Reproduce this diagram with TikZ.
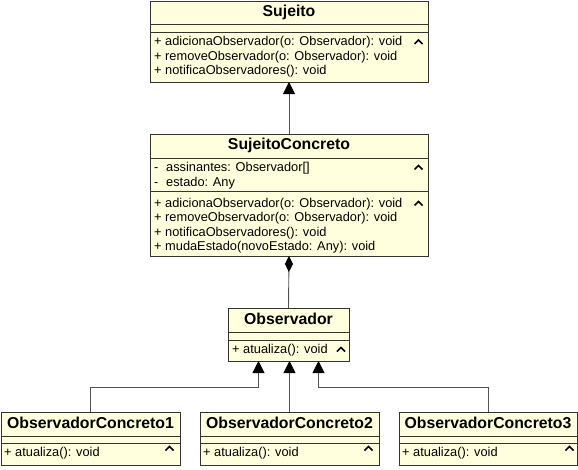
\documentclass[tikz,border=0pt]{standalone}
\usepackage{fontspec}
\setmainfont{Liberation Sans}
\usetikzlibrary{arrows.meta,calc}
\definecolor{cfill}{HTML}{FFFFDD}
\definecolor{cline}{HTML}{333333}
\begin{document}
\begin{tikzpicture}[x=1pt,y=-1pt,
  box/.style={draw=cline, fill=cfill, line width=0.8pt, anchor=north west, inner sep=0pt, outer sep=0pt},
  sep/.style={draw=cline, line width=0.8pt},
  ttl/.style={font=\bfseries\fontsize{15.8}{18}\selectfont, inner sep=0pt, text height=11.3pt, text depth=3.2pt},
  txt/.style={font=\fontsize{12.8}{15}\selectfont, anchor=west, inner sep=0pt, text height=9.3pt, text depth=2.9pt},
  caret/.style={draw=black, line width=1.6pt, line cap=butt, line join=miter},
  conn/.style={draw=cline!85!white, line width=0.9pt},
  inh/.style={conn, -{Triangle[width=12pt,length=12pt,fill=black,color=black]}},
  comp/.style={conn, -{Diamond[width=8pt,length=16pt,fill=black,color=black]}}
]
\fill[white] (0,0) rectangle (578,469);
\useasboundingbox (0,0) rectangle (578,469);

% Sujeito
\node[box, minimum width=278pt, minimum height=81pt] (suj) at (150,1) {};
\draw[sep] (150,24) -- (428,24);
\draw[sep] (150,32) -- (428,32);
\node[ttl] (sujT) at (289,12.5) {Sujeito};
\node[txt] (suj1) at (154,42.5) {+ adicionaObservador(o: Observador): void};
\node[txt] (suj2) at (154,57) {+ removeObservador(o: Observador): void};
\node[txt] (suj3) at (154,71.5) {+ notificaObservadores(): void};
\draw[caret] (414.5,44) -- (418.5,40) -- (422.5,44);

% SujeitoConcreto
\node[box, minimum width=278pt, minimum height=122pt] (sc) at (150,134) {};
\draw[sep] (150,158) -- (428,158);
\draw[sep] (150,191) -- (428,191);
\node[ttl] (scT) at (289,145.5) {SujeitoConcreto};
\node[txt] (sca1) at (154,168) {-};
\node[txt] (sca1b) at (166,168) {assinantes: Observador[]};
\node[txt] (sca2) at (154,183) {-};
\node[txt] (sca2b) at (166,183) {estado: Any};
\draw[caret] (414.5,169.5) -- (418.5,165.5) -- (422.5,169.5);
\node[txt] (scm1) at (154,204) {+ adicionaObservador(o: Observador): void};
\node[txt] (scm2) at (154,218.5) {+ removeObservador(o: Observador): void};
\node[txt] (scm3) at (154,233) {+ notificaObservadores(): void};
\node[txt] (scm4) at (154,247.5) {+ mudaEstado(novoEstado: Any): void};
\draw[caret] (414.5,205.5) -- (418.5,201.5) -- (422.5,205.5);

% Observador
\node[box, minimum width=121pt, minimum height=53pt] (obs) at (228,308) {};
\draw[sep] (228,332) -- (349,332);
\draw[sep] (228,340) -- (349,340);
\node[ttl] (obsT) at (288.5,320) {Observador};
\node[txt] (obs1) at (232,350.5) {+ atualiza(): void};
\draw[caret] (337,351.5) -- (341,347.5) -- (345,351.5);

% ObservadorConcreto 1..3
\node[box, minimum width=179pt, minimum height=53pt] (oc1) at (1,412) {};
\draw[sep] (1,436) -- (180,436);
\draw[sep] (1,443) -- (180,443);
\node[ttl] (oc1T) at (90.5,424) {ObservadorConcreto1};
\node[txt] (oc1m) at (4,453) {+ atualiza(): void};
\draw[caret] (165.5,450.5) -- (169.5,446.5) -- (173.5,450.5);

\node[box, minimum width=179pt, minimum height=53pt] (oc2) at (200,412) {};
\draw[sep] (200,436) -- (379,436);
\draw[sep] (200,443) -- (379,443);
\node[ttl] (oc2T) at (289.5,424) {ObservadorConcreto2};
\node[txt] (oc2m) at (203,453) {+ atualiza(): void};
\draw[caret] (364.5,450.5) -- (368.5,446.5) -- (372.5,450.5);

\node[box, minimum width=178pt, minimum height=53pt] (oc3) at (399,412) {};
\draw[sep] (399,436) -- (577,436);
\draw[sep] (399,443) -- (577,443);
\node[ttl] (oc3T) at (488,424) {ObservadorConcreto3};
\node[txt] (oc3m) at (402,453) {+ atualiza(): void};
\draw[caret] (565.5,450.5) -- (569.5,446.5) -- (573.5,450.5);

% connectors
\draw[inh] (sc.north) -- (suj.south);
\draw[comp] (obs.north) -- (sc.south);
\draw[inh] (oc2.north) -- (obs.south -| oc2.north);
\draw[inh] (oc1.north) -- (oc1.north |- 0,387) -| ([xshift=-30pt]obs.south);
\draw[inh] (oc3.north) -- (oc3.north |- 0,387) -| ([xshift=30pt]obs.south);
\end{tikzpicture}
\end{document}
